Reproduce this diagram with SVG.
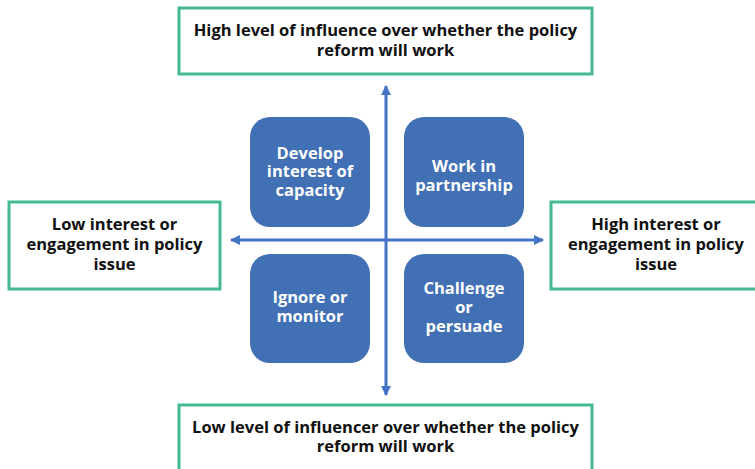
<svg xmlns="http://www.w3.org/2000/svg" width="755" height="469" viewBox="0 0 755 469">
<style>
.box{fill:#fff;stroke:#45BA8E;stroke-width:3}
.q{fill:#4270B5}
.t{font-family:"Open Sans","Liberation Sans",sans-serif;font-weight:700;font-size:16.5px;fill:#111;text-anchor:middle}
.w{font-family:"Open Sans","Liberation Sans",sans-serif;font-weight:700;font-size:16.5px;fill:#fff;text-anchor:middle}
.ax{stroke:#4472C4;stroke-width:3;fill:none}
</style>
<defs>
<marker id="ah" viewBox="0 0 10 10" refX="9" refY="5" markerWidth="3.3" markerHeight="3.3" orient="auto-start-reverse"><path d="M0,0L10,5L0,10z" fill="#4472C4"/></marker>
</defs>
<g id="connectors">
<line class="ax" x1="386" y1="86" x2="386" y2="395" marker-start="url(#ah)" marker-end="url(#ah)"/>
<line class="ax" x1="231" y1="240" x2="543" y2="240" marker-start="url(#ah)" marker-end="url(#ah)"/>
</g>
<g id="top"><rect class="box" x="179" y="8" width="413" height="66"/>
<text class="t" x="385.5" y="36">High level of influence over whether the policy</text>
<text class="t" x="385.5" y="56">reform will work</text></g>
<g id="left"><rect class="box" x="9" y="202" width="211" height="87"/>
<text class="t" x="114.5" y="230">Low interest or</text>
<text class="t" x="114.5" y="250">engagement in policy</text>
<text class="t" x="114.5" y="270">issue</text></g>
<g id="right"><rect class="box" x="551" y="202" width="210" height="87"/>
<text class="t" x="656" y="230">High interest or</text>
<text class="t" x="656" y="250">engagement in policy</text>
<text class="t" x="656" y="270">issue</text></g>
<g id="bottom"><rect class="box" x="179" y="405" width="413" height="70"/>
<text class="t" x="385.5" y="433">Low level of influencer over whether the policy</text>
<text class="t" x="385.5" y="452">reform will work</text></g>
<g id="q1"><rect class="q" x="250" y="117" width="120" height="110" rx="20"/>
<text class="w" x="310" y="159">Develop</text>
<text class="w" x="310" y="177">interest of</text>
<text class="w" x="310" y="196">capacity</text></g>
<g id="q2"><rect class="q" x="404" y="117" width="120" height="110" rx="20"/>
<text class="w" x="464" y="172">Work in</text>
<text class="w" x="464" y="191">partnership</text></g>
<g id="q3"><rect class="q" x="250" y="254" width="120" height="109" rx="20"/>
<text class="w" x="310" y="303">Ignore or</text>
<text class="w" x="310" y="322">monitor</text></g>
<g id="q4"><rect class="q" x="404" y="254" width="120" height="109" rx="20"/>
<text class="w" x="464" y="294">Challenge</text>
<text class="w" x="464" y="313">or</text>
<text class="w" x="464" y="332">persuade</text></g>
</svg>
